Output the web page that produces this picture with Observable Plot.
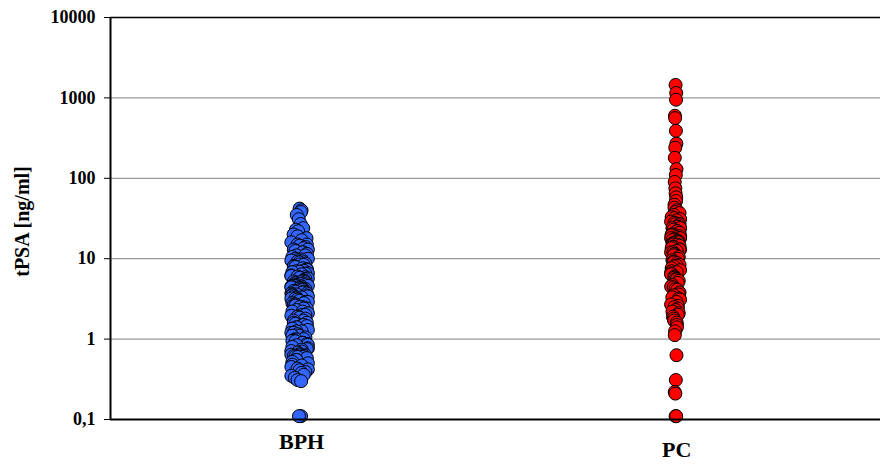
<!DOCTYPE html>
<html>
<head>
<meta charset="utf-8">
<script src="https://cdn.jsdelivr.net/npm/d3@7"></script>
<script src="https://cdn.jsdelivr.net/npm/@observablehq/plot@0.6"></script>
<style>
  html, body { margin: 0; padding: 0; background: #fff; }
  #chart svg { display: block; }
</style>
</head>
<body>
<div id="chart"></div>
<script>
// Categories
const categories = ["BPH", "PC"];
const categoryLabels = ["BPH", "PC"];
const yTicks = [0.1, 1, 10, 100, 1000, 10000];
const yTickLabels = ["0,1", "1", "10", "100", "1000", "10000"];
const yLabel = "tPSA [ng/ml]";

// tPSA values (ng/ml)
const bphValues = [
  42, 40, 38, 35, 31, 27, 24, 22, 20, 18, 17, 16, 15, 14.5, 14, 13.5, 13, 12.5, 12, 11.5,
  11, 10.5, 10, 9.8, 9.5, 9.2, 9, 8.7, 8.4, 8.1, 7.9, 7.6, 7.3, 7, 6.8, 6.6, 6.4, 6.2,
  6, 5.8, 5.6, 5.4, 5.2, 5, 4.9, 4.8, 4.7, 4.6, 4.6, 4.5, 4.5, 4.4, 4.3, 4.2, 4.1, 4,
  3.9, 3.8, 3.7, 3.6, 3.5, 3.4, 3.3, 3.2, 3.1, 3, 2.9, 2.8, 2.7, 2.6, 2.5, 2.4, 2.3,
  2.2, 2.1, 2, 1.95, 1.9, 1.85, 1.8, 1.7, 1.6, 1.55, 1.5, 1.45, 1.4, 1.35, 1.3, 1.25,
  1.2, 1.15, 1.1, 1.05, 1, 0.97, 0.94, 0.9, 0.87, 0.84, 0.8, 0.77, 0.74, 0.71, 0.68,
  0.65, 0.63, 0.62, 0.62, 0.61, 0.6, 0.58, 0.55, 0.52, 0.5, 0.47, 0.45, 0.43, 0.41,
  0.39, 0.36, 0.33, 0.31, 0.3, 0.11, 0.11,
  3.6, 2.9, 5.2, 6.1, 1.9, 8.5, 11, 2.4, 1.7, 3.2, 4.2, 7.4, 1.25, 0.95, 13, 9.3,
  4.4, 4.7, 4.9, 5.1, 3.9, 3.4, 2.7, 2.2, 1.6, 1.4, 1.1, 0.85, 0.7, 0.64, 0.6, 0.63,
  6.5, 7.1, 8, 10, 12, 15, 19, 23, 5.7, 4.3, 3.7, 3.1, 2.5, 2, 1.5, 1.2, 1, 0.9, 0.75,
  0.55, 0.48, 0.42, 0.38, 0.35, 9.6, 6.9, 5.9, 5.3, 4.8, 4.6, 4.1, 3.5, 3.3, 2.8
];
const pcValues = [
  1450, 1150, 950, 600, 560, 390, 270, 240, 180, 130, 110, 90, 75, 65, 58, 52, 47, 43,
  40, 37, 35, 33, 31, 30, 29, 28, 27, 26, 25, 24, 23, 22, 21, 20, 19.5, 19, 18.5, 18,
  17.5, 17, 16.5, 16, 15.5, 15, 15, 14.5, 14, 13.5, 13, 12.5, 12, 11.5, 11, 10.5, 10,
  9.6, 9.2, 8.8, 8.4, 8, 7.6, 7.2, 6.8, 6.4, 6, 5.6, 5.3, 5, 4.7, 4.4, 4.1, 3.8, 3.5,
  3.3, 3.1, 2.9, 2.7, 2.5, 2.3, 2.1, 2, 1.9, 1.8, 1.6, 1.4, 1.25, 1.12, 0.63, 0.31,
  0.22, 0.21, 0.11, 0.11,
  16, 14, 12, 22, 27, 9, 7, 18, 5.5, 4.5, 32, 38, 3.2, 2.6, 17, 15.5, 16.5, 13, 11,
  20, 24, 8.2, 6.6, 5.8, 4.2, 3.6, 2.4, 2.2, 1.7, 1.5
];

const colors = {BPH: "#3366ff", PC: "#ff0000"};

// small deterministic horizontal scatter (in category units), wider where dots crowd
const scatterPattern = [0, 0.02, -0.02, 0.035, -0.035, 0.01, -0.01, 0.028, -0.028, 0.015, -0.015, 0.04, -0.04];
function build(cat, idx, values, spread) {
  const logs = values.map(v => Math.log10(v));
  return values.map((v, i) => {
    const crowd = logs.filter(l => Math.abs(l - logs[i]) < 0.08).length;
    const k = Math.min(1, Math.max(0.2, (crowd - 2) / 6));
    return {
      cat, value: v,
      xpos: idx + 1 + scatterPattern[(i * 7) % scatterPattern.length] * spread * k
    };
  }).sort((a, b) => b.value - a.value);
}
const points = [
  ...build("BPH", 0, bphValues, 0.55),
  ...build("PC", 1, pcValues, 0.3)
];

const W = 883, H = 464;
const chart = Plot.plot({
  width: W,
  height: H,
  marginLeft: 110,
  marginRight: 3,
  marginTop: 17,
  marginBottom: 45,
  style: {fontFamily: "'Liberation Serif', 'Times New Roman', serif", background: "#fff", overflow: "visible"},
  x: {type: "linear", domain: [0.497, 2.545], axis: null},
  y: {type: "log", domain: [0.1, 10000], axis: null},
  marks: [
    Plot.ruleY([1, 10, 100, 1000], {stroke: "#808080", strokeWidth: 1}),
    Plot.ruleY([10000], {stroke: "#000", strokeWidth: 1.5}),
    Plot.dot(points, {
      x: "xpos", y: "value", r: 6.5,
      fill: d => colors[d.cat], stroke: "#000", strokeWidth: 1, fillOpacity: 1
    }),
    Plot.ruleY([0.1], {stroke: "#000", strokeWidth: 2}),
    Plot.ruleX([0.497], {stroke: "#000", strokeWidth: 2}),
    Plot.axisY({
      ticks: yTicks,
      tickSize: 6,
      tickPadding: 9,
      tickFormat: d => yTickLabels[yTicks.indexOf(d)],
      fontSize: 18,
      fontWeight: "bold",
      fill: "#000",
      label: null
    }),
    Plot.text([yLabel], {
      frameAnchor: "left", textAnchor: "middle", dx: -88, dy: 3, rotate: -90,
      fontSize: 20, fontWeight: "bold", fill: "#000"
    }),
    Plot.text([{c: categoryLabels[0], x: 1}], {
      x: "x", text: "c", frameAnchor: "bottom", dy: 29,
      fontSize: 22, fontWeight: "bold", fill: "#000", dx: 2
    }),
    Plot.text([{c: categoryLabels[1], x: 2}], {
      x: "x", text: "c", frameAnchor: "bottom", dy: 37,
      fontSize: 22, fontWeight: "bold", fill: "#000", dx: 1
    })
  ]
});
document.getElementById("chart").appendChild(chart);
</script>
</body>
</html>
